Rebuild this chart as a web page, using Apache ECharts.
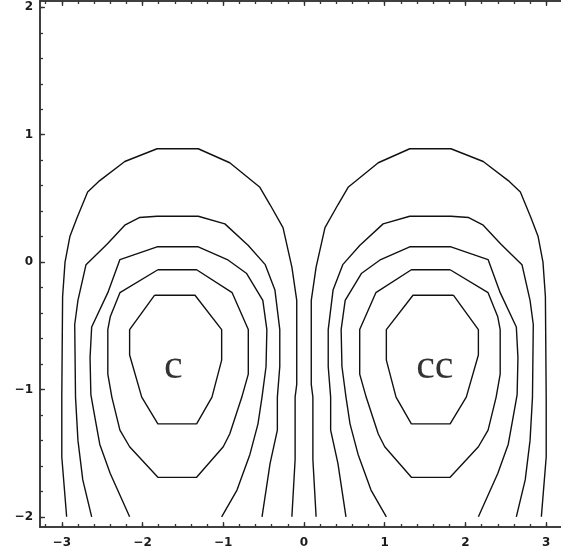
<!DOCTYPE html>
<html>
<head>
<meta charset="utf-8">
<script src="https://cdn.jsdelivr.net/npm/echarts@6/dist/echarts.min.js"></script>
<style>
  html, body { margin: 0; padding: 0; background: #ffffff; }
  #chart { width: 561px; height: 560px; }
</style>
</head>
<body>
<div id="chart"></div>
<script>
// Axis ranges and tick positions
const X_MIN = -3.27, X_MAX = 3.27;
const Y_MIN = -2.08, Y_MAX = 2.05;
const xTicks = [-3, -2, -1, 0, 1, 2, 3];
const yTicks = [-2, -1, 0, 1, 2];
const xMinorTicks = [-3.2, -3.0, -2.8, -2.6, -2.4, -2.2, -2.0, -1.8, -1.6, -1.4, -1.2, -1.0,
  -0.8, -0.6, -0.4, -0.2, 0, 0.2, 0.4, 0.6, 0.8, 1.0, 1.2, 1.4, 1.6, 1.8, 2.0, 2.2, 2.4, 2.6,
  2.8, 3.0, 3.2];
const yMinorTicks = [-2.0, -1.8, -1.6, -1.4, -1.2, -1.0, -0.8, -0.6, -0.4, -0.2, 0, 0.2, 0.4,
  0.6, 0.8, 1.0, 1.2, 1.4, 1.6, 1.8, 2.0];

// Vortex labels and where they sit
const vortexNames = ['c', 'cc'];
const vortexLabelX = [-1.62, 1.62];
const vortexLabelY = [-0.82, -0.82];

// Clockwise vortex (left): contour lines from innermost to outermost
const cw1 = [[-1.85,-0.26],[-1.35,-0.26],[-1.02,-0.53],[-1.02,-0.77],[-1.14,-1.06],[-1.33,-1.27],
  [-1.81,-1.27],[-2.01,-1.06],[-2.16,-0.73],[-2.16,-0.53],[-1.85,-0.26]];
const cw2 = [[-1.81,-0.06],[-1.33,-0.06],[-0.89,-0.24],[-0.69,-0.53],[-0.69,-0.88],[-0.77,-1.06],
  [-0.92,-1.35],[-1.00,-1.45],[-1.33,-1.69],[-1.81,-1.69],[-2.16,-1.45],[-2.28,-1.32],[-2.38,-1.06],
  [-2.43,-0.88],[-2.43,-0.53],[-2.40,-0.43],[-2.28,-0.24],[-1.81,-0.06]];
const cw3 = [[-2.16,-2],[-2.40,-1.66],[-2.53,-1.43],[-2.59,-1.22],[-2.64,-1.04],[-2.65,-0.75],
  [-2.63,-0.51],[-2.43,-0.24],[-2.28,0.02],[-1.82,0.12],[-1.31,0.12],[-0.95,0.02],[-0.71,-0.09],
  [-0.51,-0.30],[-0.46,-0.53],[-0.47,-0.82],[-0.52,-1.06],[-0.57,-1.27],[-0.67,-1.51],[-0.83,-1.79],
  [-1.02,-2]];
const cw4 = [[-2.63,-2],[-2.74,-1.71],[-2.80,-1.40],[-2.83,-1.06],[-2.84,-0.49],[-2.80,-0.30],
  [-2.70,-0.02],[-2.44,0.14],[-2.22,0.29],[-2.04,0.35],[-1.82,0.36],[-1.31,0.36],[-0.98,0.30],
  [-0.69,0.13],[-0.48,-0.02],[-0.36,-0.22],[-0.30,-0.53],[-0.30,-0.82],[-0.33,-1.06],[-0.33,-1.32],
  [-0.42,-1.58],[-0.52,-2]];
const cw5 = [[-2.94,-2],[-3.00,-1.53],[-3.00,-1.06],[-2.99,-0.27],[-2.96,0],[-2.90,0.20],
  [-2.81,0.35],[-2.68,0.55],[-2.53,0.64],[-2.22,0.79],[-1.82,0.89],[-1.31,0.89],[-0.92,0.78],
  [-0.55,0.59],[-0.42,0.45],[-0.26,0.27],[-0.15,-0.04],[-0.09,-0.30],[-0.09,-0.96],[-0.11,-1.06],
  [-0.11,-1.55],[-0.15,-2]];

// Counter-clockwise vortex (right): contour lines from innermost to outermost
const ccw1 = [[1.85,-0.26],[1.35,-0.26],[1.02,-0.53],[1.02,-0.77],[1.14,-1.06],[1.33,-1.27],
  [1.81,-1.27],[2.01,-1.06],[2.16,-0.73],[2.16,-0.53],[1.85,-0.26]];
const ccw2 = [[1.81,-0.06],[1.33,-0.06],[0.89,-0.24],[0.69,-0.53],[0.69,-0.88],[0.77,-1.06],
  [0.92,-1.35],[1.00,-1.45],[1.33,-1.69],[1.81,-1.69],[2.16,-1.45],[2.28,-1.32],[2.38,-1.06],
  [2.43,-0.88],[2.43,-0.53],[2.40,-0.43],[2.28,-0.24],[1.81,-0.06]];
const ccw3 = [[2.16,-2],[2.40,-1.66],[2.53,-1.43],[2.59,-1.22],[2.64,-1.04],[2.65,-0.75],
  [2.63,-0.51],[2.43,-0.24],[2.28,0.02],[1.82,0.12],[1.31,0.12],[0.95,0.02],[0.71,-0.09],
  [0.51,-0.30],[0.46,-0.53],[0.47,-0.82],[0.52,-1.06],[0.57,-1.27],[0.67,-1.51],[0.83,-1.79],
  [1.02,-2]];
const ccw4 = [[2.63,-2],[2.74,-1.71],[2.80,-1.40],[2.83,-1.06],[2.84,-0.49],[2.80,-0.30],
  [2.70,-0.02],[2.44,0.14],[2.22,0.29],[2.04,0.35],[1.82,0.36],[1.31,0.36],[0.98,0.30],
  [0.69,0.13],[0.48,-0.02],[0.36,-0.22],[0.30,-0.53],[0.30,-0.82],[0.33,-1.06],[0.33,-1.32],
  [0.42,-1.58],[0.52,-2]];
const ccw5 = [[2.94,-2],[3.00,-1.53],[3.00,-1.06],[2.99,-0.27],[2.96,0],[2.90,0.20],
  [2.81,0.35],[2.68,0.55],[2.53,0.64],[2.22,0.79],[1.82,0.89],[1.31,0.89],[0.92,0.78],
  [0.55,0.59],[0.42,0.45],[0.26,0.27],[0.15,-0.04],[0.09,-0.30],[0.09,-0.96],[0.11,-1.06],
  [0.11,-1.55],[0.15,-2]];

const contours = [cw1, cw2, cw3, cw4, cw5, ccw1, ccw2, ccw3, ccw4, ccw5];

const AXIS_COLOR = '#333333';
const fmt = v => (v < 0 ? '\u2212' + Math.abs(v) : String(v));
const labelFont = {
  color: '#1a1a1a', fontFamily: 'DejaVu Sans', fontSize: 12, fontWeight: 'bold'
};

function makeXAxis(position, ticks, tickLen, withLabels) {
  return {
    type: 'value', min: X_MIN, max: X_MAX, position: position,
    axisLine: { show: true, onZero: false, lineStyle: { color: AXIS_COLOR, width: 1.5 } },
    axisTick: { show: true, inside: true, length: tickLen, customValues: ticks,
      lineStyle: { color: AXIS_COLOR, width: 1.3 } },
    axisLabel: Object.assign({ show: withLabels, customValues: xTicks, formatter: fmt, margin: 10 }, labelFont),
    splitLine: { show: false }, minorTick: { show: false }
  };
}
function makeYAxis(position, ticks, tickLen, withLabels) {
  return {
    type: 'value', min: Y_MIN, max: Y_MAX, position: position,
    axisLine: { show: true, onZero: false, lineStyle: { color: AXIS_COLOR, width: 1.5 } },
    axisTick: { show: true, inside: true, length: tickLen, customValues: ticks,
      lineStyle: { color: AXIS_COLOR, width: 1.3 } },
    axisLabel: Object.assign({ show: withLabels, customValues: yTicks, formatter: fmt, margin: 7 }, labelFont),
    splitLine: { show: false }, minorTick: { show: false }
  };
}

const series = contours.map(pts => ({
  type: 'line',
  data: pts,
  xAxisIndex: 0, yAxisIndex: 0,
  showSymbol: false, symbol: 'none',
  smooth: false,
  lineStyle: { color: '#111111', width: 1.4 },
  silent: true,
  z: 3
}));

series.push({
  type: 'scatter',
  xAxisIndex: 0, yAxisIndex: 0,
  symbolSize: 0,
  data: vortexNames.map((n, i) => ({ name: n, value: [vortexLabelX[i], vortexLabelY[i]] })),
  label: {
    show: true, position: 'inside', formatter: p => p.name,
    fontFamily: 'Liberation Serif', fontSize: 42, color: '#000000'
  },
  silent: true,
  z: 4
});

const chart = echarts.init(document.getElementById('chart'), null, { renderer: 'canvas' });
chart.setOption({
  animation: false,
  backgroundColor: '#ffffff',
  grid: { left: 40, top: 1, width: 528, height: 526, containLabel: false, outerBoundsMode: 'none' },
  xAxis: [
    makeXAxis('bottom', xTicks, 5, true),
    makeXAxis('bottom', xMinorTicks, 3, false),
    makeXAxis('top', xTicks, 5, false),
    makeXAxis('top', xMinorTicks, 3, false)
  ],
  yAxis: [
    makeYAxis('left', yTicks, 5, true),
    makeYAxis('left', yMinorTicks, 3, false),
    makeYAxis('right', yTicks, 5, false),
    makeYAxis('right', yMinorTicks, 3, false)
  ],
  series: series
});
</script>
</body>
</html>
